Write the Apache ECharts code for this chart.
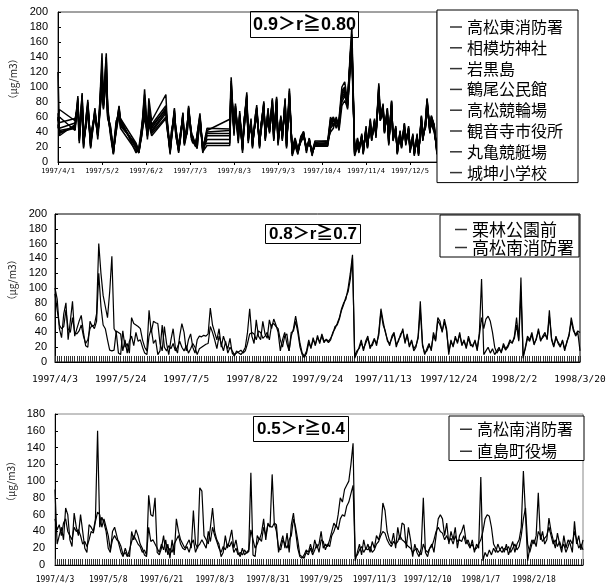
<!DOCTYPE html>
<html>
<head>
<meta charset="utf-8">
<script src="https://cdn.jsdelivr.net/npm/echarts@6/dist/echarts.min.js"></script>
<style>
  html, body { margin: 0; padding: 0; background: #fff; }
  #chart { width: 606px; height: 588px; }
</style>
</head>
<body>
<div id="chart"></div>
<script>
// ---------- Panel 1: 0.9 > r >= 0.80 (daily values, 1997) ----------
const p1Year = 1997;
const p1Ticks = ['1997/4/1', '1997/5/2', '1997/6/2', '1997/7/3', '1997/8/3', '1997/9/3', '1997/10/4', '1997/11/4', '1997/12/5'];
const p1Names = ['高松東消防署', '相模坊神社', '岩黒島', '鶴尾公民館', '高松競輪場', '観音寺市役所', '丸亀競艇場', '城坤小学校'];
const p1Dates = ['4/1','4/2',
  '4/13','4/15','4/16','4/18','4/19','4/21','4/22','4/24','4/25','4/27','4/29','4/30','5/2','5/3','5/5','5/6','5/8','5/10','5/12','5/14','5/15',
  '5/26','5/28','5/30','6/1','6/3','6/4','6/6',
  '6/16','6/17','6/19','6/20','6/22','6/23','6/25','6/26','6/28','6/29','7/1','7/2','7/4','7/5','7/7','7/8','7/10','7/12','7/15',
  '7/31','8/1','8/3','8/4','8/6','8/7','8/9','8/10','8/12','8/13','8/15','8/16','8/18','8/19','8/21','8/22','8/24','8/25','8/27','8/28',
  '8/30','8/31','9/2','9/3','9/5','9/6','9/8','9/9','9/11','9/13','9/15','9/17','9/19','9/21','9/23','9/25','9/27','9/29',
  '10/8','10/10','10/12','10/14','10/16','10/18','10/20','10/22','10/24','10/25','10/27','10/29','10/30','11/1','11/2','11/4','11/5','11/7','11/8','11/10',
  '11/11','11/13','11/14','11/16','11/17','11/19','11/20','11/22','11/23','11/25','11/26','11/28','11/29','12/1','12/2','12/4','12/5','12/7','12/8','12/10',
  '12/11','12/13','12/14','12/16','12/17','12/19','12/20','12/22','12/24'];

const takamatsuHigashi = [120, 40,
  45, 88, 30, 92, 22, 60, 83, 20, 40, 70, 38, 60, 145, 80, 145, 70, 40, 12, 45, 75, 55,
  18, 12, 40, 97, 40, 85, 55,
  90, 50, 12, 35, 72, 40, 15, 30, 65, 25, 45, 75, 35, 28, 22, 20, 65, 15, 42,
  57, 113, 40, 78, 30, 65, 15, 50, 93, 30, 55, 20, 60, 76, 20, 45, 81, 30, 70, 40, 85, 30, 87, 25, 60, 30, 85, 20, 98, 10, 25, 12, 30, 41, 15, 30, 10, 25,
  25, 55, 60, 50, 58, 100, 107, 80, 150, 180, 10, 25, 15, 35, 12, 45, 20, 55, 30, 55, 35, 105, 60, 76, 40, 70, 25, 80, 30, 45, 12, 40, 20, 50, 25, 45, 15, 35, 10, 35, 10, 60, 30, 55, 85, 40, 60, 50, 12];
const sagamibo = [60, 35,
  50, 80, 35, 85, 28, 55, 78, 25, 45, 65, 35, 58, 125, 75, 135, 65, 45, 15, 50, 65, 50,
  22, 15, 45, 80, 35, 70, 45,
  72, 48, 15, 40, 65, 45, 18, 35, 60, 28, 42, 70, 38, 30, 25, 18, 58, 18, 40,
  42, 100, 45, 70, 35, 60, 18, 55, 85, 35, 50, 25, 55, 70, 25, 50, 75, 35, 65, 45, 78, 35, 80, 30, 55, 35, 78, 25, 90, 12, 28, 15, 28, 38, 18, 28, 12, 22,
  22, 50, 55, 52, 50, 90, 95, 85, 140, 155, 12, 28, 18, 32, 15, 42, 22, 50, 32, 50, 38, 95, 62, 70, 42, 65, 28, 75, 32, 42, 15, 38, 22, 46, 28, 42, 18, 32, 12, 32, 12, 55, 32, 50, 80, 42, 55, 45, 15];
const iwakuro = [55, 70,
  55, 75, 40, 80, 30, 50, 70, 30, 38, 62, 42, 55, 115, 85, 120, 60, 42, 18, 55, 60, 45,
  15, 18, 38, 70, 42, 60, 40,
  65, 55, 18, 32, 60, 38, 20, 28, 58, 30, 50, 65, 32, 35, 20, 25, 55, 20, 38,
  38, 95, 50, 65, 38, 58, 22, 48, 80, 38, 48, 28, 52, 65, 28, 42, 70, 38, 60, 42, 72, 38, 75, 32, 52, 38, 70, 28, 85, 15, 30, 14, 32, 35, 20, 26, 14, 24,
  26, 45, 50, 55, 48, 85, 90, 75, 130, 150, 14, 30, 20, 30, 18, 40, 25, 48, 35, 48, 40, 90, 58, 68, 45, 62, 30, 70, 35, 40, 18, 35, 25, 44, 30, 40, 20, 30, 14, 30, 14, 52, 35, 48, 75, 45, 52, 42, 18];
const tsuruo = [50, 38,
  48, 70, 25, 88, 18, 65, 75, 18, 35, 68, 35, 62, 100, 70, 110, 75, 38, 14, 40, 70, 58,
  25, 12, 42, 85, 30, 55, 38,
  60, 45, 10, 38, 68, 42, 12, 32, 62, 22, 40, 72, 30, 25, 28, 18, 60, 12, 35,
  35, 108, 35, 75, 25, 68, 12, 52, 88, 25, 58, 18, 62, 72, 18, 48, 78, 28, 72, 38, 82, 28, 84, 22, 62, 28, 82, 18, 92, 8, 22, 10, 34, 40, 12, 32, 8, 28,
  28, 60, 48, 58, 45, 95, 100, 70, 145, 160, 8, 22, 12, 38, 10, 48, 18, 58, 28, 58, 32, 100, 55, 78, 38, 72, 22, 82, 28, 48, 10, 42, 18, 52, 22, 48, 12, 38, 8, 38, 8, 62, 28, 58, 82, 38, 62, 48, 10];
const keirin = [58, 45,
  52, 85, 32, 78, 25, 58, 80, 22, 42, 66, 40, 65, 130, 78, 140, 68, 35, 10, 48, 72, 52,
  20, 14, 35, 75, 45, 65, 50,
  75, 52, 14, 30, 70, 35, 16, 26, 66, 26, 48, 68, 36, 32, 24, 22, 62, 16, 30,
  30, 90, 42, 72, 32, 62, 16, 46, 82, 32, 52, 22, 58, 68, 22, 44, 76, 32, 66, 44, 80, 32, 82, 28, 58, 32, 80, 22, 88, 11, 26, 13, 29, 36, 16, 29, 11, 23,
  24, 52, 58, 45, 55, 80, 88, 78, 135, 165, 11, 26, 16, 34, 13, 44, 21, 52, 31, 52, 36, 98, 57, 72, 41, 68, 26, 78, 31, 44, 13, 39, 21, 48, 26, 44, 16, 34, 11, 34, 11, 58, 31, 52, 78, 41, 58, 46, 13];
const kanonji = [45, 60,
  42, 78, 38, 82, 20, 62, 72, 28, 36, 72, 30, 52, 110, 90, 100, 58, 48, 16, 42, 62, 60,
  12, 20, 48, 65, 38, 50, 35,
  58, 42, 20, 42, 58, 45, 22, 36, 55, 32, 38, 62, 40, 30, 26, 24, 50, 22, 25,
  25, 85, 48, 60, 40, 55, 25, 44, 75, 40, 45, 30, 50, 62, 30, 40, 68, 40, 58, 48, 70, 40, 72, 35, 50, 40, 68, 30, 80, 18, 32, 18, 26, 33, 22, 25, 15, 26,
  28, 40, 45, 60, 42, 75, 82, 72, 125, 140, 16, 32, 22, 28, 20, 38, 26, 45, 36, 45, 42, 85, 55, 65, 46, 60, 32, 68, 36, 38, 20, 34, 26, 42, 32, 38, 22, 28, 16, 28, 16, 50, 36, 46, 72, 46, 50, 40, 20];
const marugame = [52, 50,
  58, 72, 28, 76, 26, 52, 68, 24, 44, 60, 36, 56, 95, 72, 115, 62, 40, 13, 52, 68, 48,
  24, 16, 36, 60, 34, 62, 42,
  68, 46, 16, 34, 62, 36, 14, 33, 57, 24, 44, 66, 34, 27, 21, 19, 56, 14, 22,
  22, 98, 38, 68, 28, 60, 20, 42, 78, 28, 50, 24, 54, 66, 24, 46, 72, 34, 62, 40, 76, 34, 78, 27, 56, 34, 74, 24, 86, 13, 27, 16, 31, 37, 17, 27, 13, 21,
  21, 48, 52, 48, 52, 88, 92, 82, 138, 158, 13, 27, 17, 33, 14, 43, 23, 51, 33, 51, 37, 92, 59, 71, 43, 66, 27, 76, 33, 43, 14, 37, 23, 47, 27, 43, 17, 33, 13, 33, 13, 56, 33, 51, 79, 43, 56, 44, 16];
const jokon = [65, 42,
  46, 82, 34, 90, 24, 56, 76, 21, 41, 64, 38, 58, 120, 76, 125, 66, 44, 11, 46, 74, 53,
  19, 13, 44, 90, 36, 75, 48,
  70, 50, 13, 36, 66, 40, 17, 29, 63, 27, 46, 73, 37, 29, 23, 21, 60, 17, 45,
  44, 105, 43, 74, 33, 63, 17, 51, 90, 33, 53, 21, 57, 73, 21, 47, 79, 31, 68, 42, 83, 31, 85, 26, 59, 31, 83, 21, 95, 11, 24, 13, 30, 39, 16, 31, 11, 24,
  24, 58, 56, 54, 56, 92, 98, 76, 145, 170, 10, 24, 14, 36, 11, 46, 19, 56, 29, 56, 34, 102, 61, 74, 39, 71, 24, 81, 29, 46, 11, 41, 19, 51, 24, 46, 14, 36, 10, 36, 10, 61, 29, 56, 84, 39, 61, 49, 11];

// ---------- Panel 2: 0.8 > r >= 0.7 ----------
const p2Ticks = ['1997/4/3', '1997/5/24', '1997/7/5', '1997/8/22', '1997/9/24', '1997/11/13', '1997/12/24', '1998/2/2', '1998/3/20'];
const p2Names = ['栗林公園前', '高松南消防署'];
const ritsurin = [
  100, 85, 45, 33, 65, 80, 30, 55, 82, 35,
  45, 55, 63, 40, 22, 20, 55, 48, 50, 65,
  160, 120, 90, 75, 60, 95, 143, 45, 40, 12,
  10, 42, 20, 25, 12, 60, 52, 50, 48, 45,
  30, 20, 15, 70, 40, 55, 53, 52, 25, 15,
  48, 25, 10, 30, 45, 20, 12, 35, 52, 40,
  15, 30, 38, 20, 12, 30, 35, 34, 36, 35,
  38, 73, 50, 40, 30, 45, 20, 35, 25, 18,
  32, 12, 8, 15, 12, 10, 14, 20, 40, 72,
  35, 25, 57, 35, 30, 55, 38, 32, 57, 45,
  58, 50, 40, 15, 30, 40, 25, 15, 35, 45,
  62, 45, 25, 12, 8, 15, 30, 18, 33, 22,
  36, 25, 38, 28, 30, 26, 30, 40, 45, 52,
  60, 72, 80, 85, 100, 120, 145, 5, 12, 20,
  30, 15, 28, 35, 18, 25, 32, 22, 40, 72,
  55, 40, 30, 22, 35, 40, 20, 30, 35, 45,
  25, 38, 20, 30, 15, 20, 35, 82, 25, 10,
  18, 25, 15, 40, 30, 60, 55, 40, 58, 45,
  10, 30, 20, 35, 25, 40, 22, 30, 18, 35,
  25, 20, 30, 15, 40, 112, 10, 15, 20, 12,
  18, 10, 15, 20, 12, 25, 18, 22, 30, 25,
  35, 60, 30, 114, 5, 20, 35, 30, 40, 25,
  30, 45, 28, 35, 40, 30, 70, 30, 20, 35,
  25, 20, 30, 15, 28, 35, 60, 45, 35, 40, 15];
const takamatsuMinamiA = [
  92, 70, 50, 45, 48, 70, 45, 40, 60, 40,
  38, 42, 50, 35, 25, 30, 45, 50, 45, 55,
  120, 75, 50, 45, 30, 16, 15, 16, 42, 40,
  38, 15, 30, 12, 28, 35, 22, 40, 28, 30,
  20, 12, 10, 35, 45, 25, 30, 10, 15, 50,
  20, 15, 22, 18, 25, 15, 20, 28, 20, 15,
  22, 12, 18, 25, 20, 10, 18, 20, 22, 24,
  25, 48, 40, 30, 18, 35, 25, 15, 28, 12,
  20, 15, 10, 12, 14, 16, 12, 15, 25, 38,
  40, 38, 30, 42, 40, 32, 35, 40, 30, 50,
  52, 48, 45, 30, 20, 35, 38, 15, 40, 42,
  55, 40, 20, 10, 6, 12, 26, 20, 30, 24,
  33, 27, 35, 26, 31, 28, 32, 38, 48, 50,
  58, 70, 78, 88, 95, 112, 140, 8, 15, 18,
  26, 18, 25, 32, 22, 22, 30, 25, 36, 68,
  50, 42, 28, 25, 32, 38, 24, 28, 38, 42,
  28, 35, 22, 28, 18, 22, 32, 70, 22, 12,
  15, 22, 18, 36, 28, 56, 50, 42, 54, 42,
  14, 27, 22, 32, 27, 37, 24, 28, 20, 32,
  22, 23, 28, 18, 36, 60, 45, 58, 62, 55,
  40, 20, 12, 17, 14, 22, 16, 20, 27, 26,
  32, 50, 28, 95, 8, 18, 32, 28, 37, 23,
  32, 42, 30, 33, 37, 32, 62, 32, 22, 32,
  27, 22, 28, 18, 26, 38, 55, 42, 37, 42, 40];

// ---------- Panel 3: 0.5 > r >= 0.4 ----------
const p3Ticks = ['1997/4/3', '1997/5/8', '1997/6/21', '1997/8/3', '1997/8/31', '1997/9/25', '1997/11/3', '1997/12/10', '1998/1/7', '1998/2/18'];
const p3Names = ['高松南消防署', '直島町役場'];
const takamatsuMinamiB = [
  90, 25, 35, 45, 30, 68, 60, 30, 22, 62,
  45, 35, 60, 40, 20, 15, 48, 45, 40, 55,
  160, 45, 57, 50, 40, 20, 15, 40, 45, 35,
  25, 15, 10, 20, 12, 10, 40, 30, 42, 35,
  25, 20, 12, 10, 83, 60, 58, 80, 15, 12,
  20, 35, 15, 25, 8, 30, 12, 55, 40, 30,
  25, 20, 25, 30, 20, 65, 25, 20, 92, 88,
  35, 30, 25, 45, 68, 40, 30, 25, 10, 15,
  35, 20, 30, 42, 20, 30, 15, 10, 20, 12,
  15, 18, 110, 12, 10, 35, 30, 38, 55, 30,
  50, 45, 108, 50, 48, 15, 25, 35, 20, 38,
  15, 48, 62, 40, 20, 10, 8, 12, 18, 15,
  25, 15, 30, 20, 25, 40, 20, 25, 22, 30,
  40, 50, 45, 60, 80, 75, 90, 95, 100, 120,
  145, 5, 15, 25, 12, 30, 18, 25, 15, 28,
  20, 35, 30, 40, 74, 65, 40, 30, 25, 38,
  20, 45, 30, 50, 48, 20, 45, 30, 10, 25,
  15, 10, 20, 80, 15, 10, 20, 25, 15, 35,
  55, 60, 55, 35, 50, 25, 40, 30, 45, 20,
  35, 40, 48, 30, 25, 20, 30, 15, 25, 20,
  105, 5, 15, 10, 18, 12, 20, 15, 25, 18,
  22, 15, 25, 12, 20, 28, 15, 25, 30, 45,
  112, 60, 5, 20, 30, 25, 35, 86, 30, 40,
  25, 30, 56, 40, 30, 20, 38, 25, 15, 35,
  20, 30, 25, 15, 52, 25, 35, 18, 30];
const naoshima = [
  55, 42, 48, 35, 50, 55, 40, 35, 30, 45,
  40, 42, 35, 25, 28, 22, 30, 40, 38, 52,
  63, 60, 45, 55, 45, 35, 18, 30, 35, 30,
  28, 22, 12, 15, 10, 18, 28, 35, 30, 25,
  22, 15, 18, 12, 45, 28, 30, 25, 20, 15,
  25, 18, 30, 12, 20, 15, 25, 30, 35, 25,
  20, 18, 22, 15, 25, 30, 15, 22, 25, 30,
  25, 20, 40, 28, 45, 35, 28, 20, 15, 22,
  18, 25, 22, 28, 15, 20, 12, 15, 12, 18,
  14, 16, 42, 30, 20, 25, 32, 28, 45, 35,
  48, 46, 45, 50, 40, 20, 18, 30, 25, 20,
  30, 35, 55, 45, 30, 12, 10, 8, 15, 12,
  20, 12, 18, 25, 15, 30, 28, 18, 25, 22,
  35, 40, 48, 42, 55, 60, 58, 70, 75, 85,
  95, 10, 12, 18, 22, 15, 20, 18, 22, 15,
  18, 25, 28, 35, 40, 38, 30, 25, 22, 28,
  25, 28, 35, 30, 28, 25, 22, 20, 15, 18,
  20, 15, 12, 25, 18, 15, 20, 22, 30, 40,
  45, 40, 38, 30, 35, 28, 32, 25, 35, 28,
  30, 28, 35, 25, 30, 22, 25, 18, 20, 25,
  30, 40, 55, 60, 58, 45, 25, 20, 15, 18,
  15, 20, 18, 22, 15, 20, 25, 18, 22, 35,
  55, 68, 25, 15, 25, 30, 22, 40, 35, 28,
  32, 35, 45, 35, 25, 30, 22, 28, 20, 25,
  15, 22, 30, 25, 40, 30, 20, 25, 18];

// ---------- helpers ----------
const p1Values = [takamatsuHigashi, sagamibo, iwakuro, tsuruo, keirin, kanonji, marugame, jokon];
const dayZero = Date.UTC(p1Year, 3, 1);
function dayOffset(md) {
  const parts = md.split('/').map(Number);
  return (Date.UTC(p1Year, parts[0] - 1, parts[1]) - dayZero) / 86400000;
}
const p1Days = p1Dates.map(dayOffset);
const p2Cats = ritsurin.map((_, i) => String(i));
const p3Cats = takamatsuMinamiB.map((_, i) => String(i));

const SANS = '"Liberation Sans", Arial, sans-serif';
const MONO = '"DejaVu Sans Mono", monospace';
const CJK = '"Noto Sans CJK JP", sans-serif';
const TITLE_FONT = '"Liberation Sans", "Noto Sans CJK JP", sans-serif';

function lineSeries(name, xi, data, width) {
  return {
    type: 'line', name: name, xAxisIndex: xi, yAxisIndex: xi, data: data,
    symbol: 'none', showSymbol: false, silent: true,
    lineStyle: { color: '#000', width: width },
    itemStyle: { color: '#000' },
    emphasis: { disabled: true }
  };
}

function yAxisFor(gi, max, margin, gap) {
  return {
    gridIndex: gi, type: 'value', min: 0, max: max, interval: 20,
    axisLine: { show: true, lineStyle: { color: '#000', width: 1 } },
    axisTick: { show: true, inside: true, length: 3, lineStyle: { color: '#000' } },
    axisLabel: { fontSize: 11, color: '#000', margin: margin, fontFamily: SANS },
    splitLine: { show: false },
    name: '（μg/m3）', nameLocation: 'middle', nameGap: gap, nameRotate: 90,
    nameTextStyle: { fontSize: 10, color: '#222', fontFamily: CJK, padding: [0, 0, 0, 16] }
  };
}

// legend box: a short dash before each station name
function legendFor(names, left, top, padding, fontSize, lineHeight, gap) {
  return {
    data: names, orient: 'vertical', left: left, top: top, padding: padding,
    itemGap: gap, itemWidth: 12, itemHeight: 10,
    icon: 'path://M0,0H24V3H0Z', symbolKeepAspect: true,
    itemStyle: { color: '#333', borderWidth: 0 },
    lineStyle: { width: 0 },
    borderColor: '#000', borderWidth: 1, backgroundColor: '#fff',
    selectedMode: false,
    textStyle: { fontSize: fontSize, lineHeight: lineHeight, color: '#000', fontFamily: CJK }
  };
}

function titleBox(text, left, top, padding, fontSize, lineHeight) {
  return {
    text: text, left: left, top: top, padding: padding,
    borderColor: '#000', borderWidth: 1,
    textStyle: { fontSize: fontSize, lineHeight: lineHeight, fontWeight: 'bold', color: '#000', fontFamily: TITLE_FONT }
  };
}

const series = [];
p1Names.forEach((n, k) => {
  series.push(lineSeries(n, 0, p1Days.map((d, i) => [d, p1Values[k][i]]), 1.5));
});
series.push(lineSeries(p2Names[0], 1, ritsurin, 1.2));
series.push(lineSeries(p2Names[1], 1, takamatsuMinamiA, 1.2));
series.push(lineSeries(p3Names[0], 2, takamatsuMinamiB, 1.2));
series.push(lineSeries(p3Names[1], 2, naoshima, 1.2));

const option = {
  animation: false,
  backgroundColor: '#fff',
  title: [
    titleBox('0.9＞r≧0.80', 250, 11, [4, 3, 3, 3], 18, 20),
    titleBox('0.8＞r≧0.7', 265, 224, [1, 4, 1, 4], 17, 18),
    titleBox('0.5＞r≧0.4', 253, 416, [4, 4, 3, 4], 17, 19)
  ],
  legend: [
    legendFor(p1Names, 437, 10, [9, 15, 2, 13], 16, 16, 4.8),
    legendFor(p2Names, 440, 215, [6, 5, 1, 15], 17, 17, 1),
    legendFor(p3Names, 449, 416, [5, 11, 1, 11], 16, 16.5, 5.5)
  ],
  grid: [
    { left: 58, top: 12, width: 379, height: 150, show: true, borderColor: '#444', borderWidth: 1, backgroundColor: '#fff', outerBoundsMode: 'none' },
    { left: 55, top: 214, width: 525, height: 148, show: true, borderColor: '#000', borderWidth: 1, backgroundColor: '#fff', outerBoundsMode: 'none' },
    { left: 55, top: 414, width: 528, height: 151, show: true, borderColor: '#888', borderWidth: 1, backgroundColor: '#fff', outerBoundsMode: 'none' }
  ],
  xAxis: [
    {
      gridIndex: 0, type: 'value', min: 0, max: 267, interval: 31,
      axisLine: { show: true, lineStyle: { color: '#000', width: 1 } },
      axisTick: { show: true, inside: false, length: 3, lineStyle: { color: '#000' } },
      axisLabel: { fontSize: 7, color: '#000', fontFamily: MONO, margin: 6,
        formatter: v => p1Ticks[v / 31] || '' },
      splitLine: { show: false }
    },
    {
      gridIndex: 1, type: 'category', data: p2Cats, boundaryGap: false,
      axisLine: { show: true, lineStyle: { color: '#000', width: 1 } },
      axisTick: { show: true, inside: true, length: 6, interval: 0, lineStyle: { color: '#333' } },
      axisLabel: { interval: 29, fontSize: 9.5, color: '#000', fontFamily: MONO, margin: 13,
        formatter: v => p2Ticks[Number(v) / 30] || '' },
      splitLine: { show: false }
    },
    {
      gridIndex: 2, type: 'category', data: p3Cats, boundaryGap: false,
      axisLine: { show: true, lineStyle: { color: '#000', width: 1 } },
      axisTick: { show: true, inside: true, length: 6, interval: 0, lineStyle: { color: '#333' } },
      axisLabel: { interval: 24, fontSize: 8, color: '#000', fontFamily: MONO, margin: 11,
        formatter: v => p3Ticks[Number(v) / 25] || '' },
      splitLine: { show: false }
    }
  ],
  yAxis: [
    yAxisFor(0, 200, 10, 40),
    yAxisFor(1, 200, 8, 38),
    yAxisFor(2, 180, 10, 38)
  ],
  series: series
};

const chart = echarts.init(document.getElementById('chart'), null, { renderer: 'canvas' });
chart.setOption(option);
</script>
</body>
</html>
